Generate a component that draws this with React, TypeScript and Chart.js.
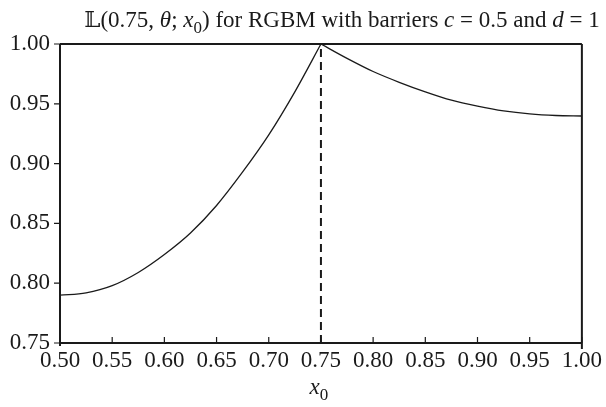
import React, { useEffect, useRef } from "react";
import { Chart, registerables } from "chart.js";

Chart.register(...registerables);

const xLeft = [0.5, 0.525, 0.55, 0.575, 0.6, 0.625, 0.65, 0.675, 0.7, 0.725, 0.75];
const yLeft = [0.79, 0.792, 0.798, 0.809, 0.824, 0.842, 0.865, 0.893, 0.924, 0.96, 1.0];
const xRight = [0.75, 0.775, 0.8, 0.825, 0.85, 0.875, 0.9, 0.925, 0.95, 0.975, 1.0];
const yRight = [1.0, 0.988, 0.977, 0.968, 0.96, 0.953, 0.948, 0.944, 0.9415, 0.9402, 0.9398];
const barrierX = [0.75, 0.75];
const barrierY = [0.75, 1.0];
const xTicks = [0.5, 0.55, 0.6, 0.65, 0.7, 0.75, 0.8, 0.85, 0.9, 0.95, 1.0];
const yTicks = [0.75, 0.8, 0.85, 0.9, 0.95, 1.0];

const SERIF = '"Liberation Serif", "DejaVu Serif", serif';
const INK = "#1a1a1a";

type Seg = { t: string; italic?: boolean; sub?: boolean; font?: string };
const titleSegs: Seg[] = [
  { t: "\u{1D543}", font: '"DejaVu Serif", "DejaVu Sans", serif' },
  { t: "(0.75" },
  { t: ", " },
  { t: "\u03B8", italic: true },
  { t: "; " },
  { t: "x", italic: true },
  { t: "0", sub: true },
  { t: ") for RGBM with barriers " },
  { t: "c", italic: true },
  { t: " = 0.5 and " },
  { t: "d", italic: true },
  { t: " = 1" },
];
const xTitleSegs: Seg[] = [{ t: "x", italic: true }, { t: "0", sub: true }];

function drawSegs(ctx: CanvasRenderingContext2D, segs: Seg[], cx: number, baseline: number, size: number) {
  const fontFor = (s: Seg) => {
    const sz = s.sub ? Math.round(size * 0.72) : size;
    return `${s.italic ? "italic " : ""}${sz}px ${s.font || SERIF}`;
  };
  let total = 0;
  for (const s of segs) {
    ctx.font = fontFor(s);
    total += ctx.measureText(s.t).width;
  }
  let x = cx - total / 2;
  ctx.textAlign = "left";
  ctx.textBaseline = "alphabetic";
  ctx.fillStyle = INK;
  for (const s of segs) {
    ctx.font = fontFor(s);
    ctx.fillText(s.t, x, s.sub ? baseline + size * 0.25 : baseline);
    x += ctx.measureText(s.t).width;
  }
}

const framePlugin = {
  id: "framePlugin",
  afterDraw(chart: any) {
    const { ctx, chartArea } = chart;
    const xs = chart.scales.x;
    const ys = chart.scales.y;
    const { left, right, top, bottom } = chartArea;
    ctx.save();
    ctx.strokeStyle = INK;
    ctx.lineWidth = 2;
    ctx.beginPath();
    ctx.moveTo(left, top);
    ctx.lineTo(right, top);
    ctx.moveTo(left, bottom);
    ctx.lineTo(right, bottom);
    ctx.moveTo(left, top);
    ctx.lineTo(left, bottom + 3);
    ctx.moveTo(right, top);
    ctx.lineTo(right, bottom + 6);
    ctx.stroke();
    ctx.lineWidth = 1.2;
    ctx.beginPath();
    for (const v of yTicks) {
      const py = ys.getPixelForValue(v);
      ctx.moveTo(left - 6, py);
      ctx.lineTo(left, py);
    }
    for (const v of xTicks) {
      const px = xs.getPixelForValue(v);
      ctx.moveTo(px, bottom);
      ctx.lineTo(px, bottom - 6);
    }
    ctx.stroke();
    drawSegs(ctx, titleSegs, 342, 27, 23);
    drawSegs(ctx, xTitleSegs, xs.getPixelForValue(0.75) - 2, 394, 23);
    ctx.restore();
  },
};

export default function App() {
  const ref = useRef<HTMLCanvasElement | null>(null);
  useEffect(() => {
    if (!ref.current) return;
    const toPts = (xs: number[], ys: number[]) => xs.map((x, i) => ({ x, y: ys[i] }));
    const chart = new Chart(ref.current, {
      type: "line",
      data: {
        datasets: [
          {
            data: toPts(xLeft, yLeft),
            borderColor: INK,
            borderWidth: 1.3,
            pointRadius: 0,
            cubicInterpolationMode: "monotone",
            fill: false,
          },
          {
            data: toPts(xRight, yRight),
            borderColor: INK,
            borderWidth: 1.3,
            pointRadius: 0,
            cubicInterpolationMode: "monotone",
            fill: false,
          },
          {
            data: toPts(barrierX, barrierY),
            borderColor: INK,
            borderWidth: 2,
            borderDash: [8, 5],
            pointRadius: 0,
            fill: false,
          },
        ],
      },
      options: {
        animation: false,
        responsive: false,
        events: [],
        layout: { padding: { top: 44, right: 20, left: 0, bottom: 0 } },
        plugins: { legend: { display: false }, tooltip: { enabled: false }, title: { display: false } },
        scales: {
          x: {
            type: "linear",
            min: 0.5,
            max: 1.0,
            afterBuildTicks: (s: any) => {
              s.ticks = xTicks.map((v) => ({ value: v }));
            },
            afterFit: (s: any) => {
              s.height = 64;
            },
            grid: { display: false, drawTicks: false },
            border: { display: false },
            ticks: {
              padding: 4,
              maxRotation: 0,
              autoSkip: false,
              color: INK,
              font: { family: SERIF, size: 23 },
              callback: (v: any) => Number(v).toFixed(2),
            },
          },
          y: {
            type: "linear",
            min: 0.75,
            max: 1.0,
            afterBuildTicks: (s: any) => {
              s.ticks = yTicks.map((v) => ({ value: v }));
            },
            afterFit: (s: any) => {
              s.width = 60;
            },
            grid: { display: false, drawTicks: false },
            border: { display: false },
            ticks: {
              padding: 10,
              autoSkip: false,
              color: INK,
              font: { family: SERIF, size: 23 },
              callback: (v: any) => Number(v).toFixed(2),
            },
          },
        },
      },
      plugins: [framePlugin],
    });
    return () => chart.destroy();
  }, []);
  return (
    <div style={{ position: "absolute", left: 0, top: 0, width: 606, height: 407, background: "#fff" }}>
      <canvas ref={ref} width={606} height={407} style={{ display: "block" }} />
    </div>
  );
}
